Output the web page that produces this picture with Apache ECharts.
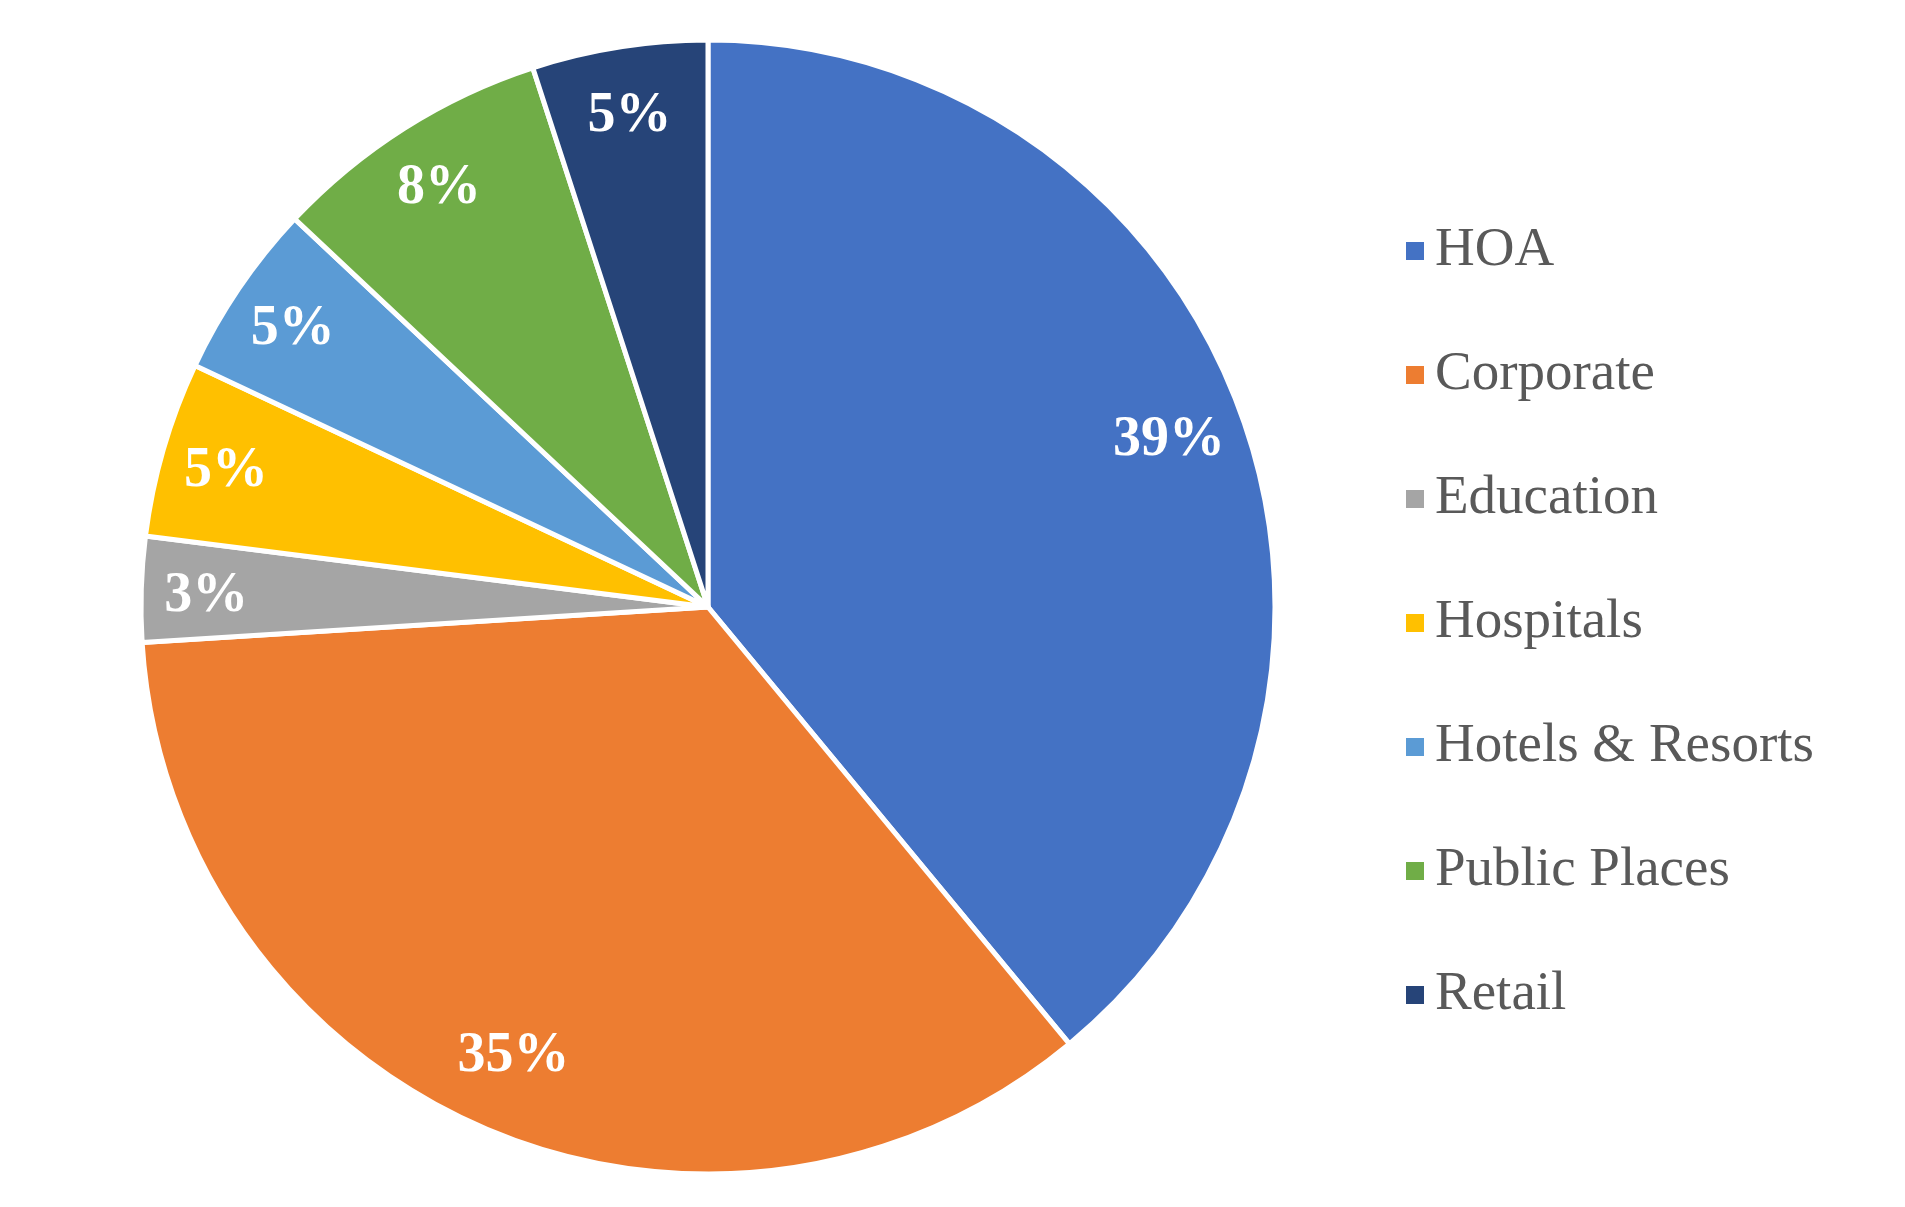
<!DOCTYPE html>
<html>
<head>
<meta charset="utf-8">
<script src="https://cdn.jsdelivr.net/npm/echarts@6/dist/echarts.min.js"></script>
<style>
html,body{margin:0;padding:0;background:#fff;}
#c{width:1905px;height:1207px;}
</style>
</head>
<body>
<div id="c"></div>
<script>
const categories = ['HOA', 'Corporate', 'Education', 'Hospitals', 'Hotels & Resorts', 'Public Places', 'Retail'];
const values = [39, 35, 3, 5, 5, 8, 5];
const colors = ['#4472C4', '#ED7D31', '#A5A5A5', '#FFC000', '#5B9BD5', '#70AD47', '#264478'];

const data = categories.map((n, i) => ({ name: n, value: values[i], itemStyle: { color: colors[i] } }));
const serif = '"Times New Roman", "Liberation Serif", serif';

function labelSeries(r0, big) {
  return {
    type: 'pie',
    center: [708, 607],
    radius: [r0, 567],
    startAngle: 90,
    clockwise: true,
    silent: true,
    legendHoverLink: false,
    itemStyle: { color: 'rgba(0,0,0,0)' },
    label: {
      show: true,
      position: 'inside',
      formatter: '{c}%',
      color: '#fff',
      fontFamily: serif,
      fontWeight: 'bold',
      fontSize: 56,
      offset: [0, big ? 0 : 5]
    },
    labelLine: { show: false },
    emphasis: { disabled: true },
    data: categories.map((n, i) => ({
      name: n + (big ? ' ' : '  '),
      value: values[i],
      label: { show: big ? values[i] >= 20 : values[i] < 20 }
    }))
  };
}

const chart = echarts.init(document.getElementById('c'));
chart.setOption({
  animation: false,
  legend: {
    orient: 'vertical',
    left: 1399,
    top: 216,
    icon: 'rect',
    itemWidth: 20,
    itemHeight: 20,
    itemGap: 64,
    textStyle: { fontFamily: serif, fontSize: 55, color: '#595959', lineHeight: 60, padding: [0, 0, 0, 5] },
    data: categories
  },
  series: [
    {
      type: 'pie',
      center: [708, 607],
      radius: [0, 567],
      startAngle: 90,
      clockwise: true,
      label: { show: false },
      labelLine: { show: false },
      itemStyle: { borderColor: '#fff', borderWidth: 5 },
      emphasis: { disabled: true },
      data: data
    },
    labelSeries(407, true),
    labelSeries(431, false)
  ]
});
</script>
</body>
</html>
